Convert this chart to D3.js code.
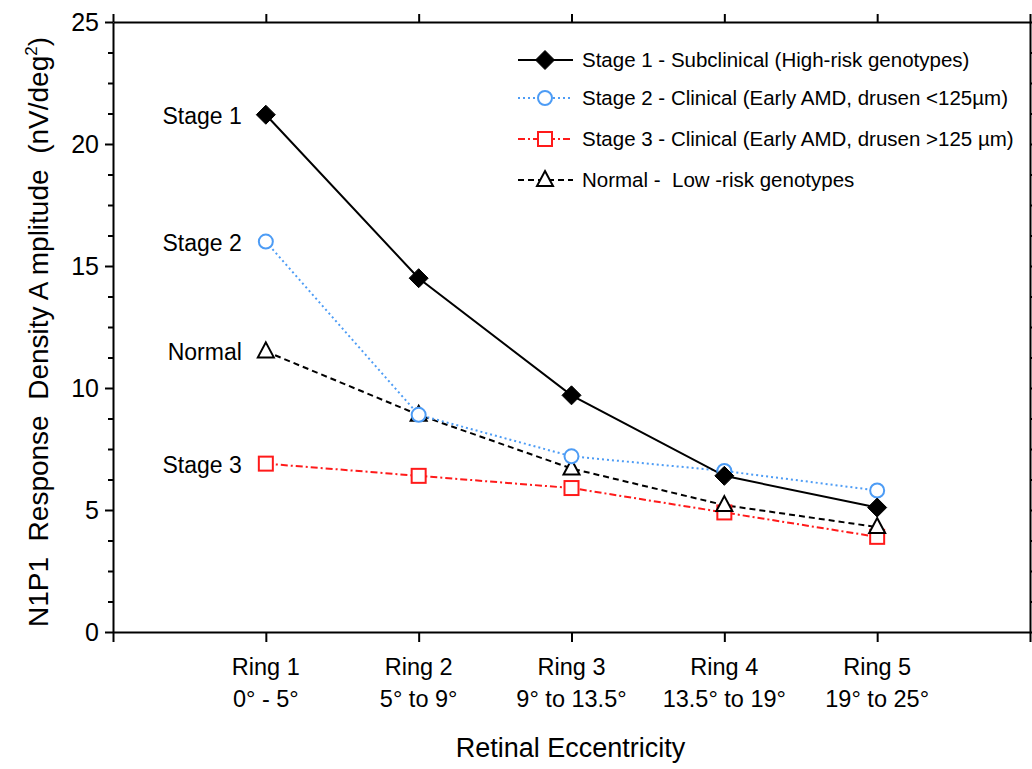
<!DOCTYPE html>
<html><head><meta charset="utf-8">
<script src="https://cdn.jsdelivr.net/npm/d3@7"></script>
<style>
html,body{margin:0;padding:0;background:#fff;}
svg{display:block;font-family:"Liberation Sans",Arial,sans-serif;}
text{white-space:pre;}
</style></head><body>
<svg id="chart" width="1032" height="769"></svg>
<script>
const rings = ["Ring 1","Ring 2","Ring 3","Ring 4","Ring 5"];
const ringRanges = ["0° - 5°","5° to 9°","9° to 13.5°","13.5° to 19°","19° to 25°"];
const stage1 = [21.2, 14.5, 9.7, 6.4, 5.1];
const stage2 = [16.0, 8.9, 7.2, 6.6, 5.8];
const stage3 = [6.9, 6.4, 5.9, 4.9, 3.9];
const normal = [11.5, 8.9, 6.7, 5.2, 4.3];
const yTicks = [0, 5, 10, 15, 20, 25];
const seriesNames = ["Stage 1 - Subclinical (High-risk genotypes)",
  "Stage 2 - Clinical (Early AMD, drusen <125µm)",
  "Stage 3 - Clinical (Early AMD, drusen >125 µm)",
  "Normal -  Low -risk genotypes"];
const sideLabels = ["Stage 1","Stage 2","Stage 3","Normal"];

const series = [
  {name: seriesNames[0], side: sideLabels[0], values: stage1, color:"#000", dash:null, marker:"diamond"},
  {name: seriesNames[1], side: sideLabels[1], values: stage2, color:"#4d9cf5", dash:"2,3", marker:"circle"},
  {name: seriesNames[2], side: sideLabels[2], values: stage3, color:"#ff1a1a", dash:"7,3,2,3", marker:"square"},
  {name: seriesNames[3], side: sideLabels[3], values: normal, color:"#000", dash:"6,4", marker:"triangle"}
];

const svg = d3.select("#chart");
const L = 113, R = 1030, T = 22, B = 632;
const x = d3.scaleLinear().domain([0, 6]).range([L, R]);
const y = d3.scaleLinear().domain([0, 25]).range([B, T]);

const g = svg.append("g");
const axisStyle = sel => { sel.select(".domain").attr("stroke","#000").attr("stroke-width",2);
  sel.selectAll(".tick line").attr("stroke","#000").attr("stroke-width",2); };

// left axis major
const yAxis = g.append("g").attr("transform",`translate(${L},0)`)
  .call(d3.axisLeft(y).tickValues(yTicks).tickSize(8).tickSizeOuter(0).tickPadding(6));
yAxis.call(axisStyle);
yAxis.selectAll("text").attr("font-size",25).attr("fill","#000").attr("font-family","Liberation Sans, Arial, sans-serif");
// left minor
const minor = d3.range(0, 25.01, 1.25).filter(v => v % 5 !== 0);
g.append("g").attr("transform",`translate(${L},0)`)
  .call(d3.axisLeft(y).tickValues(minor).tickSize(5).tickFormat("")).call(axisStyle)
  .select(".domain").remove();
// right axis
g.append("g").attr("transform",`translate(${R},0)`)
  .call(d3.axisRight(y).tickValues(yTicks.concat(minor)).tickSize(5).tickSizeOuter(0).tickFormat("")).call(axisStyle);

// bottom axis
const xTickVals = [0,1,2,3,4,5,6];
const xAxis = g.append("g").attr("transform",`translate(0,${B})`)
  .call(d3.axisBottom(x).tickValues(xTickVals).tickSize(10).tickSizeOuter(0).tickFormat(""));
xAxis.call(axisStyle);
// top axis
g.append("g").attr("transform",`translate(0,${T})`)
  .call(d3.axisTop(x).tickValues(xTickVals).tickSize(8).tickSizeOuter(0).tickFormat("")).call(axisStyle);

// x labels
rings.forEach((r,i) => {
  const t = g.append("text").attr("x", x(i+1)).attr("text-anchor","middle")
    .attr("font-size",23.5).attr("fill","#000");
  t.append("tspan").attr("x", x(i+1)).attr("y", 675).text(r);
  t.append("tspan").attr("x", x(i+1)).attr("y", 707).text(ringRanges[i]);
});
g.append("text").attr("x", (L+R)/2 - 1).attr("y", 757).attr("text-anchor","middle")
  .attr("font-size",27).text("Retinal Eccentricity");

// y title
const yt = g.append("text").attr("transform",`translate(48,${332}) rotate(-90)`)
  .attr("text-anchor","middle").attr("font-size",28);
yt.append("tspan").text("N1P1  Response  Density A mplitude  (nV/deg");
yt.append("tspan").attr("font-size",17).attr("dy",-11).text("2");
yt.append("tspan").attr("dy",11).text(")");

// markers
function drawMarker(sel, type, cx, cy, color) {
  if (type === "diamond") {
    sel.append("path").attr("d", `M${cx},${cy-9.5}L${cx+9.5},${cy}L${cx},${cy+9.5}L${cx-9.5},${cy}Z`)
      .attr("fill","#000").attr("stroke","#000");
  } else if (type === "circle") {
    sel.append("circle").attr("cx",cx).attr("cy",cy).attr("r",7)
      .attr("fill","#fff").attr("stroke",color).attr("stroke-width",2);
  } else if (type === "square") {
    sel.append("rect").attr("x",cx-7).attr("y",cy-7).attr("width",14).attr("height",14)
      .attr("fill","#fff").attr("stroke",color).attr("stroke-width",2);
  } else if (type === "triangle") {
    sel.append("path").attr("d", `M${cx},${cy-9}L${cx+8},${cy+6}L${cx-8},${cy+6}Z`)
      .attr("fill","#fff").attr("stroke","#000").attr("stroke-width",2).attr("stroke-linejoin","miter");
  }
}

const line = d3.line().x((d,i) => x(i+1)).y(d => y(d));
const order = [2, 3, 1, 0];
order.forEach(k => {
  const s = series[k];
  g.append("path").datum(s.values).attr("d", line).attr("fill","none")
    .attr("stroke", s.color).attr("stroke-width",2).attr("stroke-dasharray", s.dash);
});
order.forEach(k => {
  const s = series[k];
  s.values.forEach((v,i) => drawMarker(g, s.marker, x(i+1), y(v), s.color));
});

// side labels
series.forEach(s => {
  g.append("text").attr("x", x(1) - 24).attr("y", y(s.values[0]) + 9)
    .attr("text-anchor","end").attr("font-size",23).text(s.side);
});

// legend
const legY = [60, 98, 139, 180];
series.forEach((s,i) => {
  const ly = legY[i];
  g.append("line").attr("x1",518).attr("x2",573).attr("y1",ly).attr("y2",ly)
    .attr("stroke", s.color).attr("stroke-width",2).attr("stroke-dasharray", s.dash);
  drawMarker(g, s.marker, 545, ly, s.color);
  g.append("text").attr("x",582).attr("y",ly+7).attr("font-size",20.5).text(s.name);
});
</script>
</body></html>
